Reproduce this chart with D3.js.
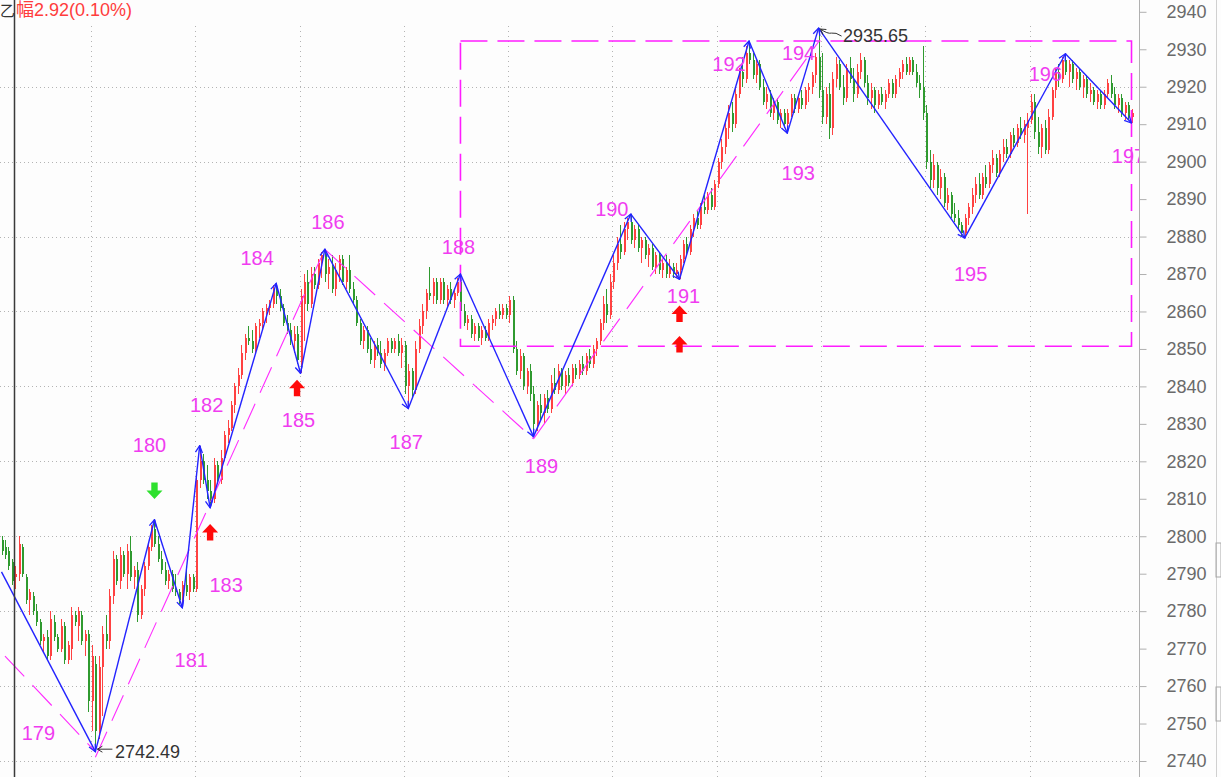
<!DOCTYPE html>
<html>
<head>
<meta charset="utf-8">
<script src="https://cdn.jsdelivr.net/npm/d3@7"></script>
<style>
  html, body { margin: 0; padding: 0; background: #fdfdfd; }
  svg { display: block; }
  text { font-family: "Liberation Sans", Arial, "Noto Sans CJK SC", sans-serif; }
</style>
</head>
<body>
<svg id="chart" width="1221" height="777"></svg>
<script>
// bars: [open, high, low, close]
const ohlc = [
  [2799,2800,2795,2796],[2797,2799,2794,2795],[2796,2797,2791,2792],[2793,2794,2787,2788],[2789,2792,2786,2790],
  [2790,2800,2788,2798],[2797,2798,2789,2790],[2789,2790,2782,2783],[2783,2786,2779,2785],[2784,2785,2779,2780],
  [2780,2782,2776,2777],[2777,2778,2771,2772],[2772,2774,2769,2773],[2773,2775,2767,2768],[2768,2780,2767,2778],
  [2777,2779,2772,2773],[2773,2774,2769,2770],[2770,2778,2769,2776],[2776,2777,2766,2767],[2767,2772,2766,2771],
  [2770,2781,2767,2779],[2779,2780,2776,2777],[2776,2781,2772,2780],[2779,2780,2771,2772],[2772,2775,2768,2774],
  [2774,2775,2753,2756],[2756,2771,2748,2768],[2766,2768,2742.49,2748],[2748,2768,2746,2765],[2765,2776,2752,2774],
  [2774,2779,2770,2772],[2772,2786,2770,2784],[2784,2796,2782,2794],[2794,2795,2787,2788],[2788,2797,2786,2795],
  [2795,2796,2789,2790],[2790,2798,2786,2796],[2796,2800,2788,2789],[2789,2792,2786,2791],[2791,2793,2777,2779],
  [2779,2787,2778,2786],[2786,2793,2784,2792],[2792,2798,2791,2797],[2797,2803,2796,2802],[2802,2804.4,2797,2798],
  [2798,2800,2793,2794],[2794,2796,2790,2791],[2791,2793,2787,2788],[2788,2791,2786,2790],[2790,2791,2785,2786],
  [2786,2790,2784,2785],[2785,2786,2782,2783],[2783,2788,2780.9,2787],[2787,2791,2784,2785],[2785,2790,2783,2789],
  [2789,2790,2785,2786],[2786,2817,2785,2815],[2815,2824.2,2813,2820],[2820,2822,2814,2815],[2815,2819,2810,2812],
  [2812,2815,2807.6,2810],[2810,2821,2809,2819],[2819,2820,2814,2815],[2815,2823,2814,2821],[2821,2828,2820,2827],
  [2827,2831,2825,2829],[2829,2836,2828,2835],[2835,2841,2833,2840],[2840,2845,2838,2843],[2843,2851,2842,2849],
  [2849,2854,2847,2853],[2853,2856,2851,2852],[2852,2855,2849,2850],[2850,2857,2849,2856],[2856,2858,2853,2857],
  [2857,2861,2855,2860],[2860,2862,2857,2861],[2861,2863,2859,2862],[2862,2867,2861,2866],[2866,2867.5,2862,2864],
  [2864,2866,2860,2861],[2861,2862,2856,2857],[2857,2859,2854,2855],[2855,2857,2851,2852],[2852,2856,2849,2854],
  [2854,2856,2846,2847],[2846,2866,2843.5,2864],[2862,2870,2852,2868],[2868,2871,2860,2862],[2862,2872,2861,2870],
  [2870,2872,2866,2867],[2867,2874,2866,2873],[2873,2876,2869,2875],[2875,2876.6,2868,2870],[2870,2874,2866,2872],
  [2872,2875,2865,2866],[2866,2873,2864,2871],[2871,2875,2868,2874],[2874,2875,2867,2868],[2868,2872,2866,2871],
  [2871,2875,2865,2866],[2866,2868,2862,2863],[2863,2864,2856,2857],[2857,2858,2851,2852],[2852,2856,2850,2855],
  [2855,2856,2849,2850],[2850,2853,2846,2847],[2847,2852,2845,2851],[2851,2853,2848,2849],[2849,2852,2845,2846],
  [2846,2850,2844,2849],[2849,2853,2848,2852],[2852,2853,2849,2850],[2850,2853,2849,2852],[2852,2854,2848,2849],
  [2849,2853,2845,2851],[2851,2852,2838,2840],[2840,2846,2834.1,2844],[2844,2845,2837,2839],[2839,2852,2838,2850],
  [2850,2858,2849,2856],[2856,2862,2854,2860],[2860,2866,2858,2865],[2865,2872,2863,2864],[2864,2869,2862,2868],
  [2868,2869,2862,2863],[2863,2869,2862,2868],[2868,2869,2862,2863],[2863,2867,2861,2866],[2866,2868,2862,2863],
  [2863,2866,2861,2865],[2865,2869,2864,2868],[2868,2870,2859,2860],[2860,2862,2856,2857],[2857,2859,2855,2858],
  [2858,2859,2853,2854],[2854,2857,2852,2856],[2856,2857,2852,2853],[2853,2856,2851,2855],[2855,2856,2852,2853],
  [2853,2858,2852,2857],[2857,2859,2855,2858],[2858,2861,2856,2860],[2860,2862,2858,2859],[2859,2862,2858,2861],
  [2861,2862,2858,2859],[2859,2864,2857,2863],[2863,2864,2849,2850],[2850,2852,2843,2844],[2844,2850,2842,2848],
  [2848,2849,2839,2840],[2840,2845,2838,2844],[2844,2846,2836,2838],[2838,2840,2826.6,2830],[2830,2836,2828,2835],
  [2835,2838,2831,2833],[2833,2838,2830,2837],[2837,2839,2833,2834],[2834,2843,2833,2841],[2841,2845,2838,2839],
  [2839,2846,2838,2844],[2844,2845,2839,2840],[2840,2844,2838,2843],[2843,2845,2840,2841],[2841,2846,2840,2845],
  [2845,2846,2842,2843],[2843,2847,2842,2846],[2846,2848,2843,2844],[2844,2849,2843,2848],[2848,2850,2845,2846],
  [2846,2851,2845,2850],[2850,2853,2848,2852],[2852,2858,2851,2857],[2857,2864,2855,2862],[2862,2866,2857,2859],
  [2859,2870,2858,2868],[2868,2875,2866,2873],[2873,2880,2871,2878],[2878,2883,2874,2876],[2876,2884,2875,2882],
  [2882,2885,2879,2884],[2884,2886,2878,2879],[2879,2883,2877,2882],[2882,2883,2876,2877],[2877,2880,2873,2879],
  [2879,2880,2874,2875],[2875,2878,2872,2877],[2877,2878,2871,2872],[2872,2876,2870,2875],[2875,2876,2870,2871],
  [2871,2874,2869,2873],[2873,2875,2869,2870],[2870,2874,2869,2872],[2872,2873,2869,2870],[2870,2873,2869,2871],
  [2871,2875,2868.6,2874],[2874,2879,2873,2878],[2878,2880,2875,2876],[2876,2883,2875,2882],[2882,2886,2880,2885],
  [2885,2887,2882,2883],[2883,2889,2882,2888],[2888,2891,2886,2887],[2887,2892,2886,2891],[2891,2893,2887,2888],
  [2888,2895,2887,2894],[2894,2901,2893,2900],[2900,2906,2898,2904],[2904,2911,2902,2909],[2909,2915,2906,2913],
  [2913,2916,2908,2910],[2910,2920,2909,2918],[2918,2925,2917,2924],[2924,2928,2920,2922],[2922,2931,2921,2929],
  [2929,2932.2,2926,2927],[2927,2929,2922,2923],[2923,2927,2921,2926],[2926,2927,2919,2920],[2920,2922,2915,2916],
  [2916,2920,2914,2918],[2918,2919,2912,2913],[2913,2917,2911,2916],[2916,2917,2910,2911],[2911,2914,2909,2913],
  [2913,2914,2909,2910],[2910,2914,2907.6,2913],[2913,2918,2912,2917],[2917,2918,2913,2914],[2914,2918,2913,2917],
  [2917,2919,2914,2915],[2915,2920,2914,2919],[2919,2921,2916,2920],[2920,2924,2918,2923],[2923,2929,2921,2928],
  [2928,2935.65,2917,2919],[2919,2929,2910,2912],[2912,2920,2910,2918],[2918,2921,2906,2909],[2909,2924,2907,2922],
  [2922,2928,2920,2926],[2926,2927,2919,2920],[2920,2923,2915,2917],[2917,2926,2916,2925],[2925,2928,2921,2922],
  [2922,2925,2916,2918],[2918,2926,2917,2924],[2924,2929,2922,2927],[2927,2928,2920,2921],[2921,2923,2915,2917],
  [2917,2921,2914,2919],[2919,2920,2913,2915],[2915,2919,2914,2918],[2918,2920,2915,2916],[2916,2919,2914,2918],
  [2918,2922,2917,2921],[2921,2922,2917,2918],[2918,2923,2917,2922],[2922,2925,2920,2924],[2924,2927,2922,2926],
  [2926,2928,2923,2924],[2924,2928,2923,2927],[2927,2928,2923,2924],[2924,2926,2920,2921],[2921,2923,2917,2919],
  [2920,2931,2911,2913],[2913,2915,2898,2900],[2900,2903,2893,2895],[2895,2902,2893,2899],[2899,2900,2891,2893],
  [2893,2898,2890,2896],[2896,2897,2888,2889],[2889,2893,2887,2891],[2891,2892,2885,2886],[2886,2889,2884,2885],
  [2885,2887,2882,2883],[2883,2884,2880,2881],[2881,2886,2879.6,2885],[2885,2889,2883,2888],[2888,2893,2886,2891],
  [2891,2896,2889,2894],[2894,2897,2890,2891],[2891,2897,2890,2896],[2896,2899,2893,2894],[2894,2900,2893,2899],
  [2899,2903,2897,2901],[2901,2902,2896,2897],[2897,2903,2896,2902],[2902,2906,2900,2904],[2904,2906,2901,2902],
  [2902,2908,2901,2907],[2907,2909,2904,2905],[2905,2910,2904,2909],[2909,2912,2906,2907],[2907,2911,2905,2910],
  [2909,2913,2886,2911],[2911,2918,2910,2916],[2916,2918,2906,2908],[2908,2912,2902,2904],[2904,2910,2901,2909],
  [2909,2911,2902,2903],[2903,2914,2902,2912],[2912,2920,2911,2919],[2919,2925,2917,2924],[2924,2926,2920,2922],
  [2922,2928,2921,2927],[2927,2928.8,2923,2924],[2924,2927,2920,2926],[2926,2927,2921,2922],[2922,2925,2919,2924],
  [2924,2925,2919,2920],[2920,2923,2917,2922],[2922,2923,2917,2918],[2918,2921,2916,2919],[2919,2920,2915,2916],
  [2916,2919,2914,2918],[2918,2919,2914,2915],[2915,2919,2914,2918],[2918,2922,2917,2921],[2921,2923,2917,2918],
  [2918,2920,2914,2915],[2915,2918,2913,2917],[2917,2918,2912,2913],[2913,2916,2911,2915],[2915,2916,2911,2912],
  [2912,2914,2910.3,2913]
];

// zigzag pivots (bar index, price, wave number)
const pivotIdx = [0, 27, 44, 52, 57, 60, 79, 86, 93, 117, 132, 153, 181, 195, 215, 226, 235, 277, 306, 325];
const pivotPrice = [2790.5, 2742.49, 2804.4, 2780.9, 2824.2, 2807.6, 2867.5, 2843.5, 2876.6, 2834.1, 2870,
  2826.6, 2886, 2868.6, 2932.2, 2907.6, 2935.65, 2879.6, 2928.8, 2910.3];
const pivotLabels = ['', '179', '180', '181', '182', '183', '184', '185', '186', '187', '188',
  '189', '190', '191', '192', '193', '194', '195', '196', '197'];

// dashed trend lines: [startIdx, startPrice, endIdx, endPrice]
const trendLines = [
  [1, 2768, 27, 2742.5],
  [27, 2741, 93, 2876.6],
  [93, 2876.6, 153, 2826],
  [153, 2826, 235, 2932]
];

const boxIdx = [132, 325];
const boxPrice = [2850.7, 2932.2];

const signalIdx = [44, 60, 85, 195, 195];
const signalPrice = [2812.2, 2801, 2839.5, 2859.3, 2851.2];
const signalDir = ['down', 'up', 'up', 'up', 'up'];

const extremeIdx = [27, 235];
const extremePrice = [2742.49, 2935.65];

const yTicks = [2740, 2750, 2760, 2770, 2780, 2790, 2800, 2810, 2820, 2830, 2840,
  2850, 2860, 2870, 2880, 2890, 2900, 2910, 2920, 2930, 2940];
const sessionStarts = [26, 56, 86, 116, 146, 176, 206, 236, 266, 296];

const headerCut = '乙';
const headerText = '幅2.92(0.10%)';

// label placement (pixels from the pivot)
const labelOffset = {
  179: [-57, -19], 180: [-5, -75], 181: [9, 52], 182: [7, -41], 183: [16, 77],
  184: [-19, -25], 185: [-2, 47], 186: [3, -27], 187: [-2, 33], 188: [-2, -27],
  189: [8, 29], 190: [-19, -5], 191: [4, 17], 192: [-20, 23], 193: [11, 40],
  194: [-20, 25], 195: [6, 36], 196: [-20, 20], 197: [-3, 33]
};

const W = 1221, H = 777;
const plotRight = 1139;
const svg = d3.select('#chart');

const x = d3.scaleLinear().domain([0, ohlc.length - 1]).range([1.5, 1131.5]);
const y = d3.scaleLinear().domain([2740, 2940]).range([761, 11.8]);

svg.append('rect').attr('width', W).attr('height', H).attr('fill', '#fdfdfd');

const defs = svg.append('defs');
defs.append('clipPath').attr('id', 'plotClip')
  .append('rect').attr('x', 0).attr('y', 0).attr('width', plotRight).attr('height', H);

defs.append('marker')
  .attr('id', 'zzArrow')
  .attr('viewBox', '-9 -5 10 10')
  .attr('refX', 0).attr('refY', 0)
  .attr('markerWidth', 10).attr('markerHeight', 10)
  .attr('markerUnits', 'userSpaceOnUse')
  .attr('orient', 'auto')
  .append('path')
  .attr('d', 'M-7,-3.5L0,0L-7,3.5')
  .attr('fill', 'none')
  .attr('stroke', '#2323ff')
  .attr('stroke-width', 1.3);

defs.append('marker')
  .attr('id', 'tagArrow')
  .attr('viewBox', '-7 -4 8 8')
  .attr('refX', 0).attr('refY', 0)
  .attr('markerWidth', 8).attr('markerHeight', 8)
  .attr('markerUnits', 'userSpaceOnUse')
  .attr('orient', 'auto')
  .append('path')
  .attr('d', 'M-5,-3L0,0L-5,3')
  .attr('fill', 'none')
  .attr('stroke', '#333')
  .attr('stroke-width', 1);

const plot = svg.append('g').attr('clip-path', 'url(#plotClip)');

// grid
plot.selectAll('.hgrid')
  .data(yTicks.filter(d => d % 20 === 0 && d < 2940))
  .join('line')
  .attr('x1', 0).attr('x2', plotRight)
  .attr('y1', d => Math.round(y(d)) + 0.5)
  .attr('y2', d => Math.round(y(d)) + 0.5)
  .attr('stroke', '#b4b4b4')
  .attr('stroke-dasharray', '1,3');

plot.selectAll('.vgrid')
  .data(sessionStarts)
  .join('line')
  .attr('x1', d => Math.round(x(d) - 1) + 0.5)
  .attr('x2', d => Math.round(x(d) - 1) + 0.5)
  .attr('y1', 26).attr('y2', H)
  .attr('stroke', '#b4b4b4')
  .attr('stroke-dasharray', '1,4');

// candles
const up = '#ff4141', down = '#2f9a2f';
const candles = plot.append('g').attr('shape-rendering', 'crispEdges');
const bar = candles.selectAll('g')
  .data(ohlc)
  .join('g')
  .attr('fill', d => (d[3] >= d[0] ? up : down));

bar.append('rect')
  .attr('x', (d, i) => Math.round(x(i)))
  .attr('width', 1)
  .attr('y', d => y(d[1]))
  .attr('height', d => Math.max(1, y(d[2]) - y(d[1])));

bar.append('rect')
  .attr('x', (d, i) => Math.round(x(i)) - 0.5)
  .attr('width', 2)
  .attr('y', d => y(Math.max(d[0], d[3])))
  .attr('height', d => Math.max(1, Math.abs(y(d[0]) - y(d[3]))));

// box
plot.append('rect')
  .attr('x', x(boxIdx[0]))
  .attr('y', y(boxPrice[1]))
  .attr('width', x(boxIdx[1]) - x(boxIdx[0]))
  .attr('height', y(boxPrice[0]) - y(boxPrice[1]))
  .attr('fill', 'none')
  .attr('stroke', '#ff1cff')
  .attr('stroke-width', 1.6)
  .attr('stroke-dasharray', '27,10');

// magenta trend lines
plot.selectAll('.trend')
  .data(trendLines)
  .join('line')
  .attr('x1', d => x(d[0])).attr('y1', d => y(d[1]))
  .attr('x2', d => x(d[2])).attr('y2', d => y(d[3]))
  .attr('stroke', '#ff2cff')
  .attr('stroke-width', 1.1)
  .attr('stroke-dasharray', '28,12');

// zigzag
const pts = pivotIdx.map((d, i) => [x(d), y(pivotPrice[i])]);
plot.selectAll('.zz')
  .data(d3.pairs(pts))
  .join('line')
  .attr('x1', d => d[0][0]).attr('y1', d => d[0][1])
  .attr('x2', d => d[1][0]).attr('y2', d => d[1][1])
  .attr('stroke', '#2323ff')
  .attr('stroke-width', 1.4)
  .attr('marker-end', 'url(#zzArrow)');

// wave numbers
plot.selectAll('.wave')
  .data(pivotLabels.map((t, i) => ({ t, i })).filter(d => d.t))
  .join('text')
  .attr('x', d => pts[d.i][0] + labelOffset[d.t][0])
  .attr('y', d => pts[d.i][1] + labelOffset[d.t][1] + 7)
  .attr('text-anchor', 'middle')
  .attr('font-size', '20px')
  .attr('fill', '#f03cf0')
  .text(d => d.t);

// signal arrows
const upPath = 'M0,-8.5L8,0L3.2,0L3.2,8L-3.2,8L-3.2,0L-8,0Z';
plot.selectAll('.sig')
  .data(signalIdx.map((d, i) => ({ i: d, p: signalPrice[i], dir: signalDir[i] })))
  .join('path')
  .attr('d', upPath)
  .attr('transform', d => `translate(${x(d.i)},${y(d.p)})${d.dir === 'down' ? ' rotate(180)' : ''}`)
  .attr('fill', d => (d.dir === 'down' ? '#2ee02e' : '#ff0a0a'));

// extreme price tags
const tagPos = [[x(extremeIdx[0]), y(extremePrice[0])], [x(extremeIdx[1]), y(extremePrice[1])]];
plot.append('line')
  .attr('x1', tagPos[0][0] + 17).attr('y1', tagPos[0][1] - 2.5)
  .attr('x2', tagPos[0][0] + 2).attr('y2', tagPos[0][1] - 2.5)
  .attr('stroke', '#333').attr('marker-end', 'url(#tagArrow)');
plot.append('path')
  .attr('d', `M${tagPos[1][0] + 23},${tagPos[1][1] + 8} q-6,-4 -10,-3 t-11,-4`)
  .attr('fill', 'none')
  .attr('stroke', '#333').attr('marker-end', 'url(#tagArrow)');

plot.append('text')
  .attr('x', tagPos[0][0] + 19.5).attr('y', tagPos[0][1] + 6)
  .attr('font-size', '18px').attr('fill', '#333')
  .text(d3.format('.2f')(extremePrice[0]));
plot.append('text')
  .attr('x', tagPos[1][0] + 24.5).attr('y', tagPos[1][1] + 14)
  .attr('font-size', '18px').attr('fill', '#333')
  .text(d3.format('.2f')(extremePrice[1]));

// cursor line
svg.append('line')
  .attr('x1', 14.5).attr('x2', 14.5)
  .attr('y1', 0).attr('y2', H)
  .attr('stroke', '#3a3a3a')
  .attr('stroke-width', 1.5);

// header
const head = svg.append('text').attr('y', 16).attr('font-size', '18px');
head.append('tspan').attr('x', 0).attr('fill', '#333')
  .style('font-family', '"Noto Sans CJK SC"').style('font-size', '15px').text(headerCut);
head.append('tspan').attr('x', 16).attr('fill', '#ff3c3c').text(headerText);

// right price axis
svg.append('line')
  .attr('x1', plotRight + 0.5).attr('x2', plotRight + 0.5)
  .attr('y1', 0).attr('y2', H)
  .attr('stroke', '#b0b0b0');

svg.append('g')
  .attr('transform', `translate(${plotRight + 0.5},0)`)
  .call(d3.axisRight(y).tickValues(yTicks).tickSize(7).tickPadding(20).tickFormat(d3.format('d')))
  .call(g => g.select('.domain').remove())
  .call(g => g.selectAll('.tick line').attr('stroke', '#b0b0b0'))
  .selectAll('text')
  .attr('fill', '#6a6a6a')
  .style('font-family', '"Liberation Sans", Arial, sans-serif')
  .style('font-size', '18px');

svg.append('line')
  .attr('x1', 1216.5).attr('x2', 1216.5)
  .attr('y1', 0).attr('y2', H)
  .attr('stroke', '#d0d0d0');
svg.selectAll('.grip')
  .data([543, 687])
  .join('rect')
  .attr('x', 1216).attr('y', d => d)
  .attr('width', 5).attr('height', 34)
  .attr('fill', 'none')
  .attr('stroke', '#a8a8a8');
</script>
</body>
</html>
